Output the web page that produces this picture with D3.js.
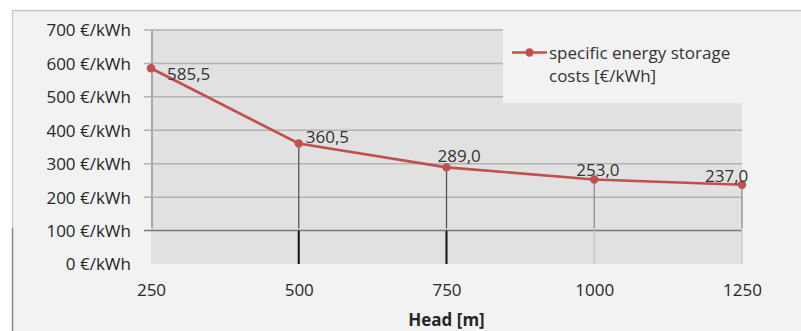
<!DOCTYPE html>
<html><head><meta charset="utf-8">
<script src="https://cdn.jsdelivr.net/npm/d3@7"></script>
<style>
html,body{margin:0;padding:0;background:#fff;}
svg{display:block;font-family:"Open Sans",sans-serif;}
</style></head>
<body>
<svg id="chart" width="801" height="331"></svg>
<script>
// ---- data ----
const heads = [250, 500, 750, 1000, 1250];
const costs = [585.5, 360.5, 289.0, 253.0, 237.0];
const costLabels = ["585,5", "360,5", "289,0", "253,0", "237,0"];
const yTicks = [0, 100, 200, 300, 400, 500, 600, 700];
const xTicks = [250, 500, 750, 1000, 1250];
const seriesName = ["specific energy storage", "costs [€/kWh]"];
const xTitle = "Head [m]";

// ---- layout (not data) ----
const labelOffsets = [[16, 12], [7, 0], [-9, -5], [-18, -3], [-37, -3]];
const lowerDropColor = [null, "#111", "#111", "#c4c4c4", "#c4c4c4"];

const svg = d3.select("#chart");
const x = d3.scaleLinear().domain([250, 1250]).range([151, 742]);
const y = d3.scaleLinear().domain([0, 700]).range([264, 30]);
const red = "#c0504d";
const ink = "#262626";

// outer frame
svg.append("rect").attr("x", 12).attr("y", 10).attr("width", 801).attr("height", 331).attr("fill", "#f2f2f2");
svg.append("line").attr("x1", 12).attr("x2", 801).attr("y1", 10.5).attr("y2", 10.5).attr("stroke", "#c8c8c8").attr("stroke-width", 1.5);
svg.append("line").attr("x1", 12.5).attr("x2", 12.5).attr("y1", 10).attr("y2", 228).attr("stroke", "#cfcfcf").attr("stroke-width", 1.5);
svg.append("line").attr("x1", 12.5).attr("x2", 12.5).attr("y1", 228).attr("y2", 331).attr("stroke", "#8a8a8a").attr("stroke-width", 1.5);

// plot area
svg.append("rect").attr("x", x(250)).attr("y", y(700)).attr("width", x(1250) - x(250)).attr("height", y(0) - y(700)).attr("fill", "#e1e1e1");

// gridlines
svg.append("g").selectAll("line").data(yTicks.filter(d => d > 0)).join("line")
  .attr("x1", 144).attr("x2", x(1250))
  .attr("y1", d => y(d)).attr("y2", d => y(d))
  .attr("stroke", d => d === 100 ? "#7a7a7a" : "#b2b2b2").attr("stroke-width", 1.5);

// y axis line
svg.append("line").attr("x1", x(250) + 1).attr("x2", x(250) + 1).attr("y1", y(700)).attr("y2", y(100) - 2)
  .attr("stroke", "#a8a8a8").attr("stroke-width", 2);

// y labels
const yAxis = d3.axisLeft(y).tickValues(yTicks).tickSize(0).tickPadding(0).tickFormat(d => d + " €/kWh");
const gy = svg.append("g").attr("transform", "translate(131,0)").call(yAxis);
gy.select(".domain").remove();
gy.selectAll("text").attr("font-size", 17).attr("fill", ink).attr("font-family", "Open Sans").attr("dy", "0.35em");

// x labels
const xAxis = d3.axisBottom(x).tickValues(xTicks).tickSize(0).tickPadding(0).tickFormat(d => String(d));
const gx = svg.append("g").attr("transform", "translate(0,284)").call(xAxis);
gx.select(".domain").remove();
gx.selectAll("text").attr("font-size", 17).attr("fill", ink).attr("font-family", "Open Sans").attr("dy", "0.71em");

// x title
svg.append("text").attr("x", x(750)).attr("y", 326).attr("text-anchor", "middle")
  .attr("font-size", 17).attr("font-weight", "bold").attr("fill", ink).text(xTitle);

// drop lines
const pts = heads.map((h, i) => ({h, v: costs[i], lab: costLabels[i], i}));
svg.append("g").selectAll("line").data(pts.filter(d => d.i > 0)).join("line")
  .attr("x1", d => x(d.h)).attr("x2", d => x(d.h))
  .attr("y1", d => y(d.v)).attr("y2", y(100) - 2)
  .attr("stroke", d => d.i >= 3 ? "#8c8c8c" : "#555").attr("stroke-width", 1.3);
svg.append("g").selectAll("line").data(pts.filter(d => lowerDropColor[d.i])).join("line")
  .attr("x1", d => x(d.h)).attr("x2", d => x(d.h))
  .attr("y1", y(100)).attr("y2", y(0))
  .attr("stroke", d => lowerDropColor[d.i]).attr("stroke-width", d => d.i >= 3 ? 1.3 : 2);

// legend box
svg.append("rect").attr("x", 503).attr("y", 28).attr("width", x(1250) - 503).attr("height", 75).attr("fill", "#f2f2f2");

// line
svg.append("path").datum(pts)
  .attr("d", d3.line().x(d => x(d.h)).y(d => y(d.v)))
  .attr("fill", "none").attr("stroke", red).attr("stroke-width", 2.6);
svg.append("g").selectAll("circle").data(pts).join("circle")
  .attr("cx", d => x(d.h)).attr("cy", d => y(d.v)).attr("r", 4.2).attr("fill", red);

// data labels
svg.append("g").selectAll("text").data(pts).join("text")
  .attr("x", d => x(d.h) + labelOffsets[d.i][0])
  .attr("y", d => y(d.v) + labelOffsets[d.i][1])
  .attr("font-size", 17).attr("fill", "#333").text(d => d.lab);

// legend
svg.append("line").attr("x1", 512).attr("x2", 547).attr("y1", 52.5).attr("y2", 52.5).attr("stroke", red).attr("stroke-width", 2.6);
svg.append("circle").attr("cx", 529.5).attr("cy", 52.5).attr("r", 4.2).attr("fill", red);
svg.append("text").attr("x", 549).attr("y", 59).attr("font-size", 17).attr("fill", "#333").text(seriesName[0]);
svg.append("text").attr("x", 549).attr("y", 82).attr("font-size", 17).attr("fill", "#333").text(seriesName[1]);
</script>
</body></html>
